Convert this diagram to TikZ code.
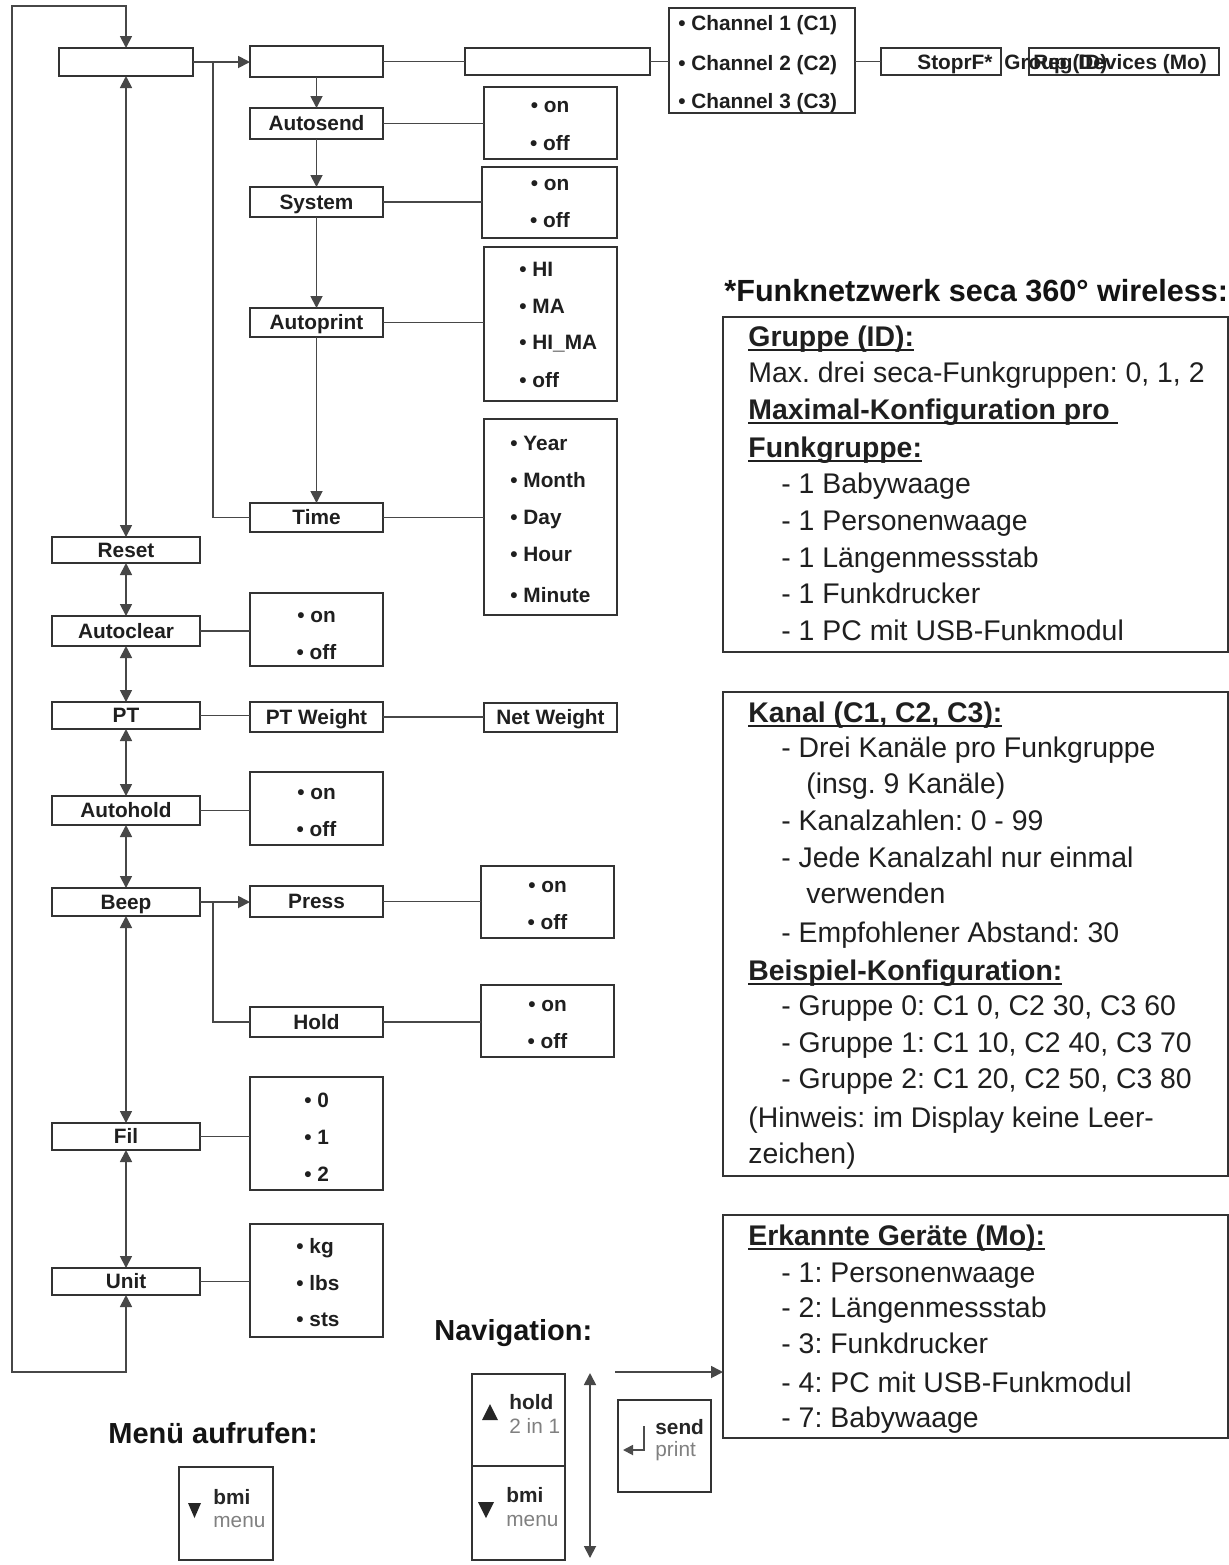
\documentclass[tikz,border=0pt]{standalone}
\usepackage{fontspec}
\setmainfont{Liberation Sans}
\usetikzlibrary{arrows.meta}
\frenchspacing
\newcommand\lblfont{\fontsize{10.4}{12}\selectfont\bfseries}
\newcommand\pfont{\fontsize{14.2}{17}\selectfont}
\newcommand\tfont{\fontsize{15.3}{18}\selectfont\bfseries}
\newcommand\hfont{\fontsize{14.5}{17}\selectfont\bfseries}
\newsavebox\ulsave
\newcommand\ulx[1]{\sbox\ulsave{#1}\rlap{\rule[-2.4pt]{\wd\ulsave}{1.1pt}}\usebox\ulsave}
\newcommand\mybox[7][]{%
 \pgfmathsetmacro\bxcx{(#3+#5)/2}%
 \pgfmathsetmacro\bxcy{(#4+#6)/2}%
 \pgfmathsetmacro\bxw{(#5-#3)/2}%
 \pgfmathsetmacro\bxh{(#6-#4)/2}%
 \node[mbox,minimum width=\bxw pt,minimum height=\bxh pt,#1] (#2) at (\bxcx,\bxcy) {#7};}
\tikzset{
 lc/.style={draw=black!72, line width=0.9pt},
 arr/.style={lc, -{Triangle[length=6pt,width=6pt]}},
 darr/.style={lc, {Triangle[length=6pt,width=6pt]}-{Triangle[length=6pt,width=6pt]}},
 mbox/.style={draw=black!80, line width=1pt, inner sep=0pt, outer sep=0pt, font=\lblfont, text=black!88, text height=7.45pt, text depth=0pt},
 opt/.style={font=\lblfont, text=black!88, inner sep=0pt, text height=7.45pt, text depth=0pt},
 optl/.style={opt, anchor=west},
 ptxt/.style={font=\pfont, text=black!88, inner sep=0pt, anchor=west, text height=10.2pt, text depth=0pt},
 keyb/.style={font=\lblfont, text=black!85, inner sep=0pt, anchor=west, text height=7.45pt, text depth=0pt},
 keyg/.style={font=\fontsize{10.4}{12}\selectfont, text=black!50, inner sep=0pt, anchor=west, text height=7.45pt, text depth=0pt},
}
\begin{document}
\begin{tikzpicture}[x=0.5pt,y=-0.5pt]
\fill[white] (0,0) rectangle (1229,1565);
\useasboundingbox (0,0) rectangle (1229,1565);
% ---------- left column
\mybox{b1}{59}{48}{193}{76}{}
\mybox{reset}{52}{537}{200}{563}{Reset}
\mybox{autoclear}{52}{616}{200}{646}{Autoclear}
\mybox{pt}{52}{702}{200}{729}{PT}
\mybox{autohold}{52}{796}{200}{825}{Autohold}
\mybox{beep}{52}{888}{200}{916}{Beep}
\mybox{fil}{52}{1123}{200}{1150}{Fil}
\mybox{unit}{52}{1268}{200}{1295}{Unit}
% ---------- second column
\mybox{b2}{250}{46}{383}{77}{}
\mybox{autosend}{250}{108}{383}{139}{Autosend}
\mybox{system}{250}{187}{383}{217}{System}
\mybox{autoprint}{250}{308}{383}{337}{Autoprint}
\mybox{time}{250}{503}{383}{532}{Time}
\mybox{acopt}{250}{593}{383}{666}{}
\mybox{ptw}{250}{702}{383}{732}{PT Weight}
\mybox{ahopt}{250}{772}{383}{845}{}
\mybox{press}{250}{886}{383}{917}{Press}
\mybox{hold}{250}{1007}{383}{1037}{Hold}
\mybox{filopt}{250}{1077}{383}{1190}{}
\mybox{unitopt}{250}{1224}{383}{1337}{}
% ---------- third column
\mybox{asopt}{484}{87}{617}{159}{}
\mybox{syopt}{482}{167}{617}{238}{}
\mybox{apopt}{484}{247}{617}{401}{}
\mybox{timeopt}{484}{419}{617}{615}{}
\mybox{netw}{484}{703}{617}{732}{Net Weight}
\mybox{propt}{481}{866}{614}{938}{}
\mybox{hoopt}{481}{985}{614}{1057}{}
% ---------- top row
\mybox{b3}{465}{48}{650}{75}{}
\mybox{chan}{669}{8}{855}{113}{}
\mybox{stop}{881}{48}{1001}{75}{}
\mybox{dev}{1029}{48}{1219}{75}{}
\node[optl] (stopt) at (917,62) {StoprF*};
\node[optl] (grpt) at (1004,62) {Group (ID)};
\node[optl] (devt) at (1033,62) {Reg Devices (Mo)};
\node[optl] (c1) at (678,23) {• Channel 1 (C1)};
\node[optl] (c2) at (678,63) {• Channel 2 (C2)};
\node[optl] (c3) at (678,101) {• Channel 3 (C3)};
% ---------- option texts
\node[opt] (aso1) at (550,105) {• on};
\node[opt] (aso2) at (550,143) {• off};
\node[opt] (syo1) at (550,183) {• on};
\node[opt] (syo2) at (550,220) {• off};
\node[optl] (apo1) at (519,269) {• HI};
\node[optl] (apo2) at (519,306) {• MA};
\node[optl] (apo3) at (519,342) {• HI\_MA};
\node[optl] (apo4) at (519,380) {• off};
\node[optl] (tio1) at (510,443) {• Year};
\node[optl] (tio2) at (510,480) {• Month};
\node[optl] (tio3) at (510,517) {• Day};
\node[optl] (tio4) at (510,554) {• Hour};
\node[optl] (tio5) at (510,595) {• Minute};
\node[opt] (aco1) at (316.5,615) {• on};
\node[opt] (aco2) at (316.5,652) {• off};
\node[opt] (aho1) at (316.5,792) {• on};
\node[opt] (aho2) at (316.5,829) {• off};
\node[opt] (pro1) at (547.5,885) {• on};
\node[opt] (pro2) at (547.5,922) {• off};
\node[opt] (hoo1) at (547.5,1004) {• on};
\node[opt] (hoo2) at (547.5,1041) {• off};
\node[optl] (fio1) at (304,1100) {• 0};
\node[optl] (fio2) at (304,1137) {• 1};
\node[optl] (fio3) at (304,1174) {• 2};
\node[optl] (uno1) at (296,1246) {• kg};
\node[optl] (uno2) at (296,1283) {• lbs};
\node[optl] (uno3) at (296,1319) {• sts};
% ---------- connectors
\coordinate (loopBL) at (12,1372);
\coordinate (loopTL) at (12,6);
\draw[darr] (unit.south) |- (loopBL) -- (loopTL) -| (b1.north);
\draw[darr] (b1.south) -- (reset.north);
\draw[darr] (reset.south) -- (autoclear.north);
\draw[darr] (autoclear.south) -- (pt.north);
\draw[darr] (pt.south) -- (autohold.north);
\draw[darr] (autohold.south) -- (beep.north);
\draw[darr] (beep.south) -- (fil.north);
\draw[darr] (fil.south) -- (unit.north);
\draw[arr] (b1.east) -- (b1.east -| b2.west);
\coordinate (j1) at (213,62);
\draw[lc] (j1) |- (time.west);
\draw[lc] (b2.east) -- (b2.east -| b3.west);
\draw[lc] (b3.east) -- (b3.east -| chan.west);
\draw[lc] (chan.east |- stop.west) -- (stop.west);
\draw[arr] (b2.south) -- (autosend.north);
\draw[arr] (autosend.south) -- (system.north);
\draw[arr] (system.south) -- (autoprint.north);
\draw[arr] (autoprint.south) -- (time.north);
\draw[lc] (autosend.east) -- (autosend.east -| asopt.west);
\draw[lc] (system.east) -- (system.east -| syopt.west);
\draw[lc] (autoprint.east) -- (autoprint.east -| apopt.west);
\draw[lc] (time.east) -- (time.east -| timeopt.west);
\draw[lc] (autoclear.east) -- (autoclear.east -| acopt.west);
\draw[lc] (pt.east) -- (pt.east -| ptw.west);
\draw[lc] (ptw.east) -- (ptw.east -| netw.west);
\draw[lc] (autohold.east) -- (autohold.east -| ahopt.west);
\draw[arr] (beep.east) -- (beep.east -| press.west);
\coordinate (j2) at (213,902);
\draw[lc] (j2) |- (hold.west);
\draw[lc] (press.east) -- (press.east -| propt.west);
\draw[lc] (hold.east) -- (hold.east -| hoopt.west);
\draw[lc] (fil.east) -- (fil.east -| filopt.west);
\draw[lc] (unit.east) -- (unit.east -| unitopt.west);
% ---------- right panels
\node[font=\tfont, text=black!92, inner sep=0pt, anchor=west, text height=11pt, text depth=0pt] (title) at (724,290) {*Funknetzwerk seca 360° wireless:};
\mybox{p1}{723}{317}{1228}{652}{}
\mybox{p2}{723}{692}{1228}{1176}{}
\mybox{p3}{723}{1215}{1228}{1438}{}
\node[ptxt] (p1a) at (748,336) {\ulx{\bfseries Gruppe (ID):}};
\node[ptxt] (p1b) at (748,372) {Max. drei seca-Funkgruppen: 0, 1, 2};
\node[ptxt] (p1c) at (748,409) {\ulx{\bfseries Maximal-Konfiguration pro\hspace{0.3em}}};
\node[ptxt] (p1d) at (748,447) {\ulx{\bfseries Funkgruppe:}};
\node[ptxt] (p1e) at (781,483) {- 1 Babywaage};
\node[ptxt] (p1f) at (781,520) {- 1 Personenwaage};
\node[ptxt] (p1g) at (781,557) {- 1 Längenmessstab};
\node[ptxt] (p1h) at (781,593) {- 1 Funkdrucker};
\node[ptxt] (p1i) at (781,630) {- 1 PC mit USB-Funkmodul};
\node[ptxt] (p2a) at (748,712) {\ulx{\bfseries Kanal (C1, C2, C3):}};
\node[ptxt] (p2b) at (781,747) {- Drei Kanäle pro Funkgruppe};
\node[ptxt] (p2c) at (806,783) {(insg. 9 Kanäle)};
\node[ptxt] (p2d) at (781,820) {- Kanalzahlen: 0 - 99};
\node[ptxt] (p2e) at (781,857) {- Jede Kanalzahl nur einmal};
\node[ptxt] (p2f) at (806,893) {verwenden};
\node[ptxt] (p2g) at (781,932) {- Empfohlener Abstand: 30};
\node[ptxt] (p2h) at (748,970) {\ulx{\bfseries Beispiel-Konfiguration:}};
\node[ptxt] (p2i) at (781,1005) {- Gruppe 0: C1 0, C2 30, C3 60};
\node[ptxt] (p2j) at (781,1042) {- Gruppe 1: C1 10, C2 40, C3 70};
\node[ptxt] (p2k) at (781,1078) {- Gruppe 2: C1 20, C2 50, C3 80};
\node[ptxt] (p2l) at (748,1117) {(Hinweis: im Display keine Leer-};
\node[ptxt] (p2m) at (748,1153) {zeichen)};
\node[ptxt] (p3a) at (748,1235) {\ulx{\bfseries Erkannte Geräte (Mo):}};
\node[ptxt] (p3b) at (781,1272) {- 1: Personenwaage};
\node[ptxt] (p3c) at (781,1307) {- 2: Längenmessstab};
\node[ptxt] (p3d) at (781,1343) {- 3: Funkdrucker};
\node[ptxt] (p3e) at (781,1382) {- 4: PC mit USB-Funkmodul};
\node[ptxt] (p3f) at (781,1417) {- 7: Babywaage};
% ---------- navigation
\node[font=\hfont, text=black!92, inner sep=0pt, anchor=west, text height=10.4pt, text depth=0pt] (navt) at (434,1330) {Navigation:};
\node[font=\hfont, text=black!92, inner sep=0pt, anchor=west, text height=10.4pt, text depth=0pt] (ment) at (108,1433) {Menü aufrufen:};
\mybox{khold}{472}{1374}{565}{1466}{}
\mybox{kbmi}{472}{1466}{565}{1560}{}
\mybox{ksend}{618}{1400}{711}{1492}{}
\mybox{kmenu}{179}{1467}{273}{1560}{}
\coordinate (nvt) at (590,1373);
\coordinate (nvb) at (590,1558);
\draw[darr] (nvt) -- (nvb);
\coordinate (na) at (615,1372);
\draw[arr] (na) -- (na -| p3.west);
\fill[black!85] (482,1420) -- (498,1420) -- (490,1404) -- cycle;
\node[keyb] (th) at (509,1402) {hold};
\node[keyg] (th2) at (509,1426) {2 in 1};
\fill[black!85] (478,1502) -- (494,1502) -- (486,1518) -- cycle;
\node[keyb] (tb) at (506,1495) {bmi};
\node[keyg] (tb2) at (506,1519) {menu};
\coordinate (ra) at (644,1426);
\coordinate (rb) at (623,1450);
\draw[lc, black!70, -{Triangle[length=5pt,width=5pt]}] (ra) |- (rb);
\node[keyb] (ts) at (655,1427) {send};
\node[keyg] (ts2) at (655,1449) {print};
\fill[black!85] (188,1503) -- (201,1503) -- (194.5,1518) -- cycle;
\node[keyb] (tm) at (213,1497) {bmi};
\node[keyg] (tm2) at (213,1520) {menu};
\end{tikzpicture}
\end{document}
